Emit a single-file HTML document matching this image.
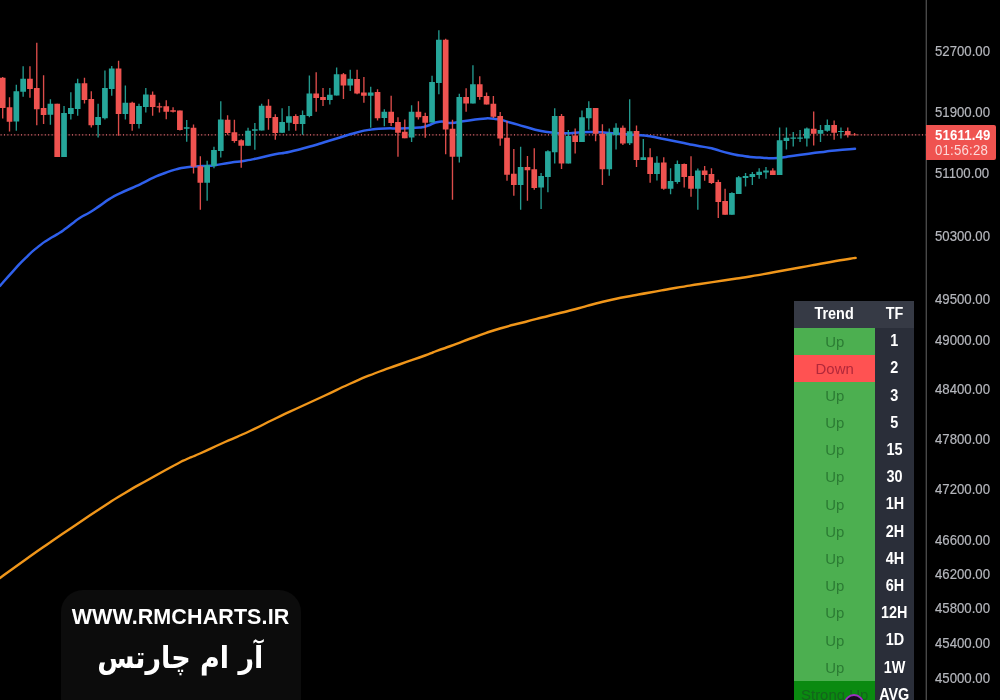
<!DOCTYPE html>
<html lang="fa">
<head>
<meta charset="utf-8">
<title>RM Charts</title>
<style>
html,body{margin:0;padding:0;background:#000;}
body{width:1000px;height:700px;overflow:hidden;position:relative;font-family:"Liberation Sans","DejaVu Sans",sans-serif;}
.chart{position:absolute;left:0;top:0;display:block;}
.tick{position:absolute;left:934.7px;width:70px;height:16px;line-height:16px;font-size:14.5px;color:#b4b6bc;-webkit-text-stroke:0.2px #b4b6bc;white-space:nowrap;transform:scaleX(0.91);transform-origin:left center;}
.price{position:absolute;left:925.5px;top:125.3px;width:70.5px;height:35px;background:#ef5350;border-radius:0 2px 2px 0;color:#fff;}
.price div{position:absolute;left:9.7px;font-size:14.5px;line-height:14px;white-space:nowrap;transform:scaleX(0.91);transform-origin:left center;}
.price .p1{top:2.8px;font-weight:bold;letter-spacing:0.15px;}
.price .p2{top:18.1px;color:rgba(255,255,255,0.78);letter-spacing:0.22px;}
.tbl{position:absolute;left:794px;top:301px;width:120px;}
.tbl span{position:relative;top:-0.3px;display:inline-block;transform:scale(0.93,1.06);white-space:nowrap;}
.c1.up span,.c1.down span,.c1.strong span{transform:scaleX(0.97);top:-0.1px;}
.hdr,.row{display:flex;height:27.2px;}
.hdr{height:27px;background:#363a45;color:#fff;font-weight:bold;font-size:15.5px;}
.c1{width:81px;display:flex;align-items:center;justify-content:center;font-size:15.4px;}
.c2{width:39px;display:flex;align-items:center;justify-content:center;background:#2a2e39;color:#fff;font-weight:bold;font-size:15.5px;}
.hdr .c1,.hdr .c2{background:none;font-size:15.5px;}
.up{background:#4caf50;color:#2b7b33;}
.down{background:#ff5252;color:#b2283a;}
.strong{background:#0a8a10;color:#14641c;}
.dot{position:absolute;left:844.3px;top:693.5px;width:16px;height:16px;border-radius:50%;border:2px solid #9b2fc0;background:#160b1e;}
.wm{position:absolute;left:60.5px;top:589.5px;width:240px;height:130px;border-radius:22px;background:#0c0c0c;color:#fff;text-align:center;}
.wm .u{position:absolute;left:0;right:0;top:15px;font-size:21.5px;line-height:24px;font-weight:bold;letter-spacing:0.1px;}
.wm .f{position:absolute;left:-0.5px;right:0;top:43px;font-family:"DejaVu Sans","Liberation Sans",sans-serif;font-weight:bold;font-size:30px;line-height:50px;direction:rtl;transform:scaleX(0.9);}
</style>
</head>
<body>
<svg class="chart" width="1000" height="700" viewBox="0 0 1000 700">
<line x1="0" y1="134.9" x2="926" y2="134.9" stroke="#ef5350" stroke-opacity="0.12" stroke-width="1.1"/>
<line x1="0.6" y1="134.9" x2="926" y2="134.9" stroke="#f07680" stroke-opacity="0.95" stroke-width="1.15" stroke-dasharray="1 2.4"/>
<path d="M0 578C8.33 572.00 8.33 571.83 25 560C41.67 548.17 33.33 554.00 50 542.5C66.67 531.00 58.33 536.75 75 525.5C91.67 514.25 83.33 519.58 100 508.75C116.67 497.92 108.33 503.00 125 493C141.67 483.00 133.33 488.08 150 478.75C166.67 469.42 162.50 471.67 175 465C187.50 458.33 179.17 462.58 187.5 458.75C195.83 454.92 187.50 459.08 200 453.5C212.50 447.92 208.33 449.50 225 442C241.67 434.50 233.33 438.75 250 431C266.67 423.25 258.33 426.75 275 418.75C291.67 410.75 283.33 414.75 300 407C316.67 399.25 308.33 403.25 325 395.5C341.67 387.75 333.33 391.17 350 383.75C366.67 376.33 358.33 379.75 375 373.25C391.67 366.75 383.33 370.17 400 364.25C416.67 358.33 412.50 360.05 425 355.5C437.50 350.95 429.17 353.68 437.5 350.6C445.83 347.52 437.50 350.78 450 346.25C462.50 341.72 458.33 342.92 475 337C491.67 331.08 483.33 333.50 500 328.5C516.67 323.50 508.33 326.33 525 322C541.67 317.67 533.33 319.75 550 315.5C566.67 311.25 558.33 313.58 575 309.25C591.67 304.92 583.33 306.58 600 302.5C616.67 298.42 608.33 300.33 625 297C641.67 293.67 633.33 295.50 650 292.5C666.67 289.50 658.33 290.83 675 288C691.67 285.17 683.33 286.60 700 284C716.67 281.40 708.33 282.70 725 280.2C741.67 277.70 733.33 279.23 750 276.5C766.67 273.77 758.33 275.00 775 272C791.67 269.00 783.33 270.50 800 267.5C816.67 264.50 808.33 265.92 825 263C841.67 260.08 840.00 260.42 850 258.75C860.00 257.08 853.33 258.25 855 258" fill="none" stroke="#f0961a" stroke-width="2.4" stroke-linejoin="round" stroke-linecap="round"/>
<path d="M0 285.9C4.30 281.03 4.33 280.67 12.9 271.3C21.47 261.93 17.13 266.10 25.7 257.8C34.27 249.50 30.90 252.60 38.6 246.4C46.30 240.20 42.80 243.13 48.8 239.2C54.80 235.27 51.43 237.80 56.6 234.6C61.77 231.40 59.17 233.20 64.3 229.6C69.43 226.00 66.87 227.67 72 223.8C77.13 219.93 73.70 221.87 79.7 218C85.70 214.13 83.23 216.33 90 212.2C96.77 208.07 93.33 210.13 100 205.6C106.67 201.07 103.00 202.87 110 198.6C117.00 194.33 113.67 196.33 121 192.8C128.33 189.27 124.67 191.30 132 188C139.33 184.70 135.67 186.43 143 182.9C150.33 179.37 146.67 180.70 154 177.4C161.33 174.10 157.67 175.67 165 173C172.33 170.33 168.67 171.33 176 169.4C183.33 167.47 179.67 168.23 187 167.2C194.33 166.17 191.33 166.73 198 166.3C204.67 165.87 201.33 166.27 207 165.9C212.67 165.53 207.33 166.27 215 165.2C222.67 164.13 220.00 164.18 230 162.7C240.00 161.22 235.00 162.40 245 160.75C255.00 159.10 250.00 159.90 260 157.75C270.00 155.60 265.00 156.32 275 154.3C285.00 152.28 278.33 154.30 290 151.7C301.67 149.10 298.33 149.73 310 146.5C321.67 143.27 315.00 145.00 325 142C335.00 139.00 330.00 140.50 340 137.5C350.00 134.50 345.00 135.60 355 133C365.00 130.40 360.00 131.20 370 129.7C380.00 128.20 375.00 128.93 385 128.5C395.00 128.07 390.00 128.65 400 128.4C410.00 128.15 407.67 128.15 415 127.75C422.33 127.35 417.83 127.87 422 127.2C426.17 126.53 421.67 127.58 427.5 125.75C433.33 123.92 432.00 122.62 439.5 121.7C447.00 120.78 441.50 123.20 450 123C458.50 122.80 455.00 122.43 465 121.1C475.00 119.77 470.00 119.73 480 119C490.00 118.27 485.00 117.73 495 118.9C505.00 120.07 500.00 119.88 510 122.5C520.00 125.12 515.00 124.02 525 126.75C535.00 129.48 531.00 128.78 540 130.7C549.00 132.62 543.83 131.63 552 132.5C560.17 133.37 551.83 133.47 564.5 133.3C577.17 133.13 574.00 132.00 590 132C606.00 132.00 595.50 132.22 612.5 133.3C629.50 134.38 628.50 134.25 641 135.25C653.50 136.25 642.00 134.95 650 136.3C658.00 137.65 655.00 137.30 665 139.3C675.00 141.30 670.00 140.30 680 142.3C690.00 144.30 685.00 143.40 695 145.3C705.00 147.20 703.33 146.67 710 148C716.67 149.33 708.33 147.47 715 149.3C721.67 151.13 720.00 151.20 730 153.5C740.00 155.80 735.00 154.87 745 156.2C755.00 157.53 750.50 156.80 760 157.5C769.50 158.20 765.50 158.38 773.5 158.3C781.50 158.22 778.50 157.95 784 157.25C789.50 156.55 783.00 157.20 790 156.2C797.00 155.20 795.00 155.55 805 154.25C815.00 152.95 810.00 153.55 820 152.3C830.00 151.05 823.33 151.67 835 150.5C846.67 149.33 848.33 149.37 855 148.8" fill="none" stroke="#2f60ec" stroke-width="2.5" stroke-linejoin="round" stroke-linecap="round"/>
<path d="M2.70 77V118.4M9.52 97.2V131.5M29.96 66.3V97.8M36.78 42.75V125.25M43.59 75.3V124.1M57.22 103.8V157M84.48 77.7V103.5M91.30 91.2V127.6M118.56 60.75V135.7M132.19 101.7V130.8M152.63 91.5V115.8M159.44 102.75V112.5M166.26 100.2V119.25M173.07 107.25V112.5M179.89 110.55V130.5M193.52 124.4V173.5M200.34 156.25V209.8M227.59 115.2V134.75M234.41 119.7V142.8M241.22 139.2V167.8M268.49 99.3V129.75M275.30 114.3V139.8M295.75 114.25V130.75M316.19 72.25V111.7M323.00 88V106M343.45 73V99M357.08 69.7V94.3M363.89 77V102.7M377.53 89.2V120.5M391.16 95.8V126M397.97 117.25V156.7M404.79 119.5V138.25M418.42 101.2V119.5M425.23 112.75V137.8M445.68 38.8V154.25M452.49 119.8V199.7M466.12 88.3V111.7M479.75 76.3V99.7M486.56 92.5V104.5M493.38 96V118M500.19 112V145.7M507.01 121.1V180.8M513.83 149V195.8M527.46 156V200.75M534.27 148.25V189.8M561.53 114V169.1M575.16 128.6V153.4M595.61 108V141.25M602.42 124.3V184.9M622.87 125.5V145M636.50 125.5V166.9M650.13 148.3V182.8M663.76 157.3V189.8M684.20 163.5V187.4M691.02 156.2V196.7M704.65 166V180.7M711.46 168.2V184M718.28 179.7V218M725.09 188.8V214.7M772.80 168.2V174.9M813.69 111.5V145.5M834.13 120.6V139.75M847.76 127.5V137.5M854.58 133V135.3" stroke="#ef5350" stroke-opacity="0.92" stroke-width="1.35" fill="none"/>
<path d="M16.33 84.75V130.75M23.14 66.3V96.75M50.41 99.3V124.8M64.03 106.1V157M70.85 92.25V119.4M77.67 78.75V115.8M98.11 103.8V137.5M104.93 70.5V119.6M111.74 66V95.7M125.37 85.5V119.6M139.00 103.8V128.4M145.81 88.1V112.4M186.71 119.9V141.7M207.15 160.75V200.8M213.97 146.75V168.25M220.78 101.25V157.5M248.04 127.8V145.8M254.85 123V149.75M261.67 103.8V130.5M282.12 108.25V132.9M288.93 106V130.75M302.56 110.6V134.8M309.38 75.5V117.25M329.82 88V104.5M336.63 67.5V95.5M350.26 69.7V91M370.71 86.8V127.75M384.34 109.3V126.25M411.60 105.25V142M432.05 75.7V122.6M438.86 30.25V94.3M459.31 93.7V162.5M472.94 65.2V103.5M520.64 146.75V209.75M541.09 173V209M547.90 150.2V192.2M554.72 108.25V163.5M568.35 130.1V163.6M581.98 110.5V142M588.79 101.2V129.7M609.24 128.5V175.7M616.05 123.25V149.6M629.68 99.25V145M643.31 139.1V160.1M656.94 156.2V180.4M670.57 168.2V194.3M677.39 160.5V183.65M697.83 168.5V209.7M731.91 192.2V214.7M738.72 176.1V194.1M745.54 173V186.5M752.35 171.9V185.1M759.17 168.2V178.75M765.98 167.1V178.75M779.61 127.5V175M786.43 127.5V149.6M793.24 132.1V146.5M800.06 130V142.1M806.87 127.5V146.6M820.50 125V142M827.32 119.5V131.8M840.95 127.5V138.5" stroke="#26a69a" stroke-opacity="0.92" stroke-width="1.35" fill="none"/>
<path d="M-0.15 77.7h5.7v30.3h-5.7zM6.67 107.25h5.7v14.5h-5.7zM27.11 78.75h5.7v10.25h-5.7zM33.93 88h5.7v21.2h-5.7zM40.74 108h5.7v6.9h-5.7zM54.37 103.8h5.7v53.2h-5.7zM81.63 83.25h5.7v16.75h-5.7zM88.45 99h5.7v26.25h-5.7zM115.71 68.55h5.7v45.35h-5.7zM129.34 102.75h5.7v21.25h-5.7zM149.78 94.8h5.7v12.2h-5.7zM156.59 106.2h5.7v1.2h-5.7zM163.41 106.2h5.7v5.55h-5.7zM170.22 110.25h5.7v1.5h-5.7zM177.04 110.55h5.7v19.45h-5.7zM190.67 127.8h5.7v38.95h-5.7zM197.49 166.3h5.7v16.5h-5.7zM224.75 119.7h5.7v13.3h-5.7zM231.56 132.3h5.7v8.6h-5.7zM238.38 140.25h5.7v5.55h-5.7zM265.63 105.75h5.7v12.25h-5.7zM272.45 117h5.7v16h-5.7zM292.89 116h5.7v8h-5.7zM313.34 93.5h5.7v4.5h-5.7zM320.15 97h5.7v3h-5.7zM340.60 74.2h5.7v11.3h-5.7zM354.23 79h5.7v14.5h-5.7zM361.04 92.5h5.7v3.3h-5.7zM374.68 92h5.7v26.2h-5.7zM388.31 111.7h5.7v11.2h-5.7zM395.12 122.1h5.7v10.6h-5.7zM401.94 131.8h5.7v6.45h-5.7zM415.56 111.7h5.7v5.55h-5.7zM422.38 116h5.7v6.8h-5.7zM442.82 39.7h5.7v89.8h-5.7zM449.64 128.75h5.7v28.05h-5.7zM463.27 97h5.7v6.5h-5.7zM476.90 84.25h5.7v12.75h-5.7zM483.71 96h5.7v8.5h-5.7zM490.53 103.75h5.7v13.05h-5.7zM497.34 116h5.7v22.5h-5.7zM504.16 137.75h5.7v37.05h-5.7zM510.98 173.75h5.7v11.25h-5.7zM524.61 167h5.7v3.3h-5.7zM531.42 169.25h5.7v18.75h-5.7zM558.68 116h5.7v47.6h-5.7zM572.31 135.5h5.7v6.5h-5.7zM592.76 108h5.7v25.75h-5.7zM599.57 133.75h5.7v35.55h-5.7zM620.02 127.75h5.7v15.75h-5.7zM633.65 131.1h5.7v29h-5.7zM647.28 157.3h5.7v16.6h-5.7zM660.91 162.6h5.7v26.15h-5.7zM681.35 164h5.7v12.9h-5.7zM688.17 176h5.7v12.75h-5.7zM701.80 170.5h5.7v4.5h-5.7zM708.61 174.1h5.7v8.9h-5.7zM715.43 181.9h5.7v20.1h-5.7zM722.24 201.1h5.7v13.6h-5.7zM769.95 170.5h5.7v4.4h-5.7zM810.84 128.7h5.7v5.05h-5.7zM831.28 125h5.7v7.8h-5.7zM844.91 131h5.7v4.3h-5.7zM851.73 134.5h5.7v0.8h-5.7z" fill="#ef5350"/>
<path d="M13.48 91.2h5.7v30.4h-5.7zM20.29 78.75h5.7v13.05h-5.7zM47.56 103.8h5.7v10.95h-5.7zM61.18 113h5.7v44h-5.7zM68.00 108h5.7v6h-5.7zM74.82 83.25h5.7v25.75h-5.7zM95.26 117.1h5.7v7.9h-5.7zM102.08 88h5.7v30.25h-5.7zM108.89 68.55h5.7v20.4h-5.7zM122.52 102.75h5.7v11.25h-5.7zM136.15 106h5.7v18h-5.7zM142.97 94.6h5.7v12.4h-5.7zM183.86 127.25h5.7v1.5h-5.7zM204.30 165.25h5.7v17.55h-5.7zM211.12 150.1h5.7v15.9h-5.7zM217.93 119.55h5.7v31.45h-5.7zM245.19 130.8h5.7v15h-5.7zM252.00 129.3h5.7v1.5h-5.7zM258.82 105.75h5.7v24.75h-5.7zM279.26 122h5.7v10.7h-5.7zM286.08 116.2h5.7v6.6h-5.7zM299.71 115h5.7v9h-5.7zM306.52 93.5h5.7v22.5h-5.7zM326.97 94.75h5.7v5.25h-5.7zM333.78 74.2h5.7v21.3h-5.7zM347.41 78.7h5.7v6.8h-5.7zM367.86 92.5h5.7v3.3h-5.7zM381.49 111.7h5.7v6.3h-5.7zM408.75 111.7h5.7v25.8h-5.7zM429.19 82h5.7v40.6h-5.7zM436.01 39.7h5.7v43.3h-5.7zM456.45 97h5.7v59.8h-5.7zM470.08 84.25h5.7v19.25h-5.7zM517.79 167h5.7v18h-5.7zM538.24 176h5.7v11.5h-5.7zM545.05 151.25h5.7v25.75h-5.7zM551.87 116h5.7v36.3h-5.7zM565.50 135.9h5.7v27.7h-5.7zM579.12 117.25h5.7v24.75h-5.7zM585.94 108h5.7v10.3h-5.7zM606.39 133h5.7v36.3h-5.7zM613.20 127.75h5.7v7.5h-5.7zM626.83 131.2h5.7v12h-5.7zM640.46 157.3h5.7v2.8h-5.7zM654.09 162.75h5.7v11.15h-5.7zM667.72 181h5.7v7.75h-5.7zM674.54 164h5.7v17.9h-5.7zM694.98 170.5h5.7v18.25h-5.7zM729.06 193.1h5.7v21.6h-5.7zM735.87 177.25h5.7v16.85h-5.7zM742.69 176.1h5.7v2h-5.7zM749.50 174h5.7v3h-5.7zM756.32 171.8h5.7v3.1h-5.7zM763.13 170.5h5.7v1.9h-5.7zM776.76 140.3h5.7v34.7h-5.7zM783.58 137.8h5.7v3.2h-5.7zM790.39 137.5h5.7v1.2h-5.7zM797.21 137.4h5.7v1.3h-5.7zM804.02 128.5h5.7v10h-5.7zM817.65 130h5.7v3.75h-5.7zM824.47 125h5.7v5.75h-5.7zM838.10 130.9h5.7v1.2h-5.7z" fill="#26a69a"/>
<rect x="925.6" y="0" width="1.4" height="700" fill="#484848"/>
</svg>
<div class="tick" style="top:43px">52700.00</div>
<div class="tick" style="top:104.4px">51900.00</div>
<div class="tick" style="top:165.4px">51100.00</div>
<div class="tick" style="top:228px">50300.00</div>
<div class="tick" style="top:291.4px">49500.00</div>
<div class="tick" style="top:332.2px">49000.00</div>
<div class="tick" style="top:381px">48400.00</div>
<div class="tick" style="top:430.6px">47800.00</div>
<div class="tick" style="top:481px">47200.00</div>
<div class="tick" style="top:531.7px">46600.00</div>
<div class="tick" style="top:565.8px">46200.00</div>
<div class="tick" style="top:599.9px">45800.00</div>
<div class="tick" style="top:635px">45400.00</div>
<div class="tick" style="top:669.6px">45000.00</div>
<div class="price"><div class="p1">51611.49</div><div class="p2">01:56:28</div></div>
<div class="tbl">
<div class="hdr"><div class="c1"><span>Trend</span></div><div class="c2"><span>TF</span></div></div>
<div class="row"><div class="c1 up"><span>Up</span></div><div class="c2"><span>1</span></div></div>
<div class="row"><div class="c1 down"><span>Down</span></div><div class="c2"><span>2</span></div></div>
<div class="row"><div class="c1 up"><span>Up</span></div><div class="c2"><span>3</span></div></div>
<div class="row"><div class="c1 up"><span>Up</span></div><div class="c2"><span>5</span></div></div>
<div class="row"><div class="c1 up"><span>Up</span></div><div class="c2"><span>15</span></div></div>
<div class="row"><div class="c1 up"><span>Up</span></div><div class="c2"><span>30</span></div></div>
<div class="row"><div class="c1 up"><span>Up</span></div><div class="c2"><span>1H</span></div></div>
<div class="row"><div class="c1 up"><span>Up</span></div><div class="c2"><span>2H</span></div></div>
<div class="row"><div class="c1 up"><span>Up</span></div><div class="c2"><span>4H</span></div></div>
<div class="row"><div class="c1 up"><span>Up</span></div><div class="c2"><span>6H</span></div></div>
<div class="row"><div class="c1 up"><span>Up</span></div><div class="c2"><span>12H</span></div></div>
<div class="row"><div class="c1 up"><span>Up</span></div><div class="c2"><span>1D</span></div></div>
<div class="row"><div class="c1 up"><span>Up</span></div><div class="c2"><span>1W</span></div></div>
<div class="row"><div class="c1 strong"><span>Strong Up</span></div><div class="c2"><span>AVG</span></div></div>
</div>
<div class="dot"></div>
<div class="wm"><div class="u">WWW.RMCHARTS.IR</div><div class="f">آر ام چارتس</div></div>
</body>
</html>
